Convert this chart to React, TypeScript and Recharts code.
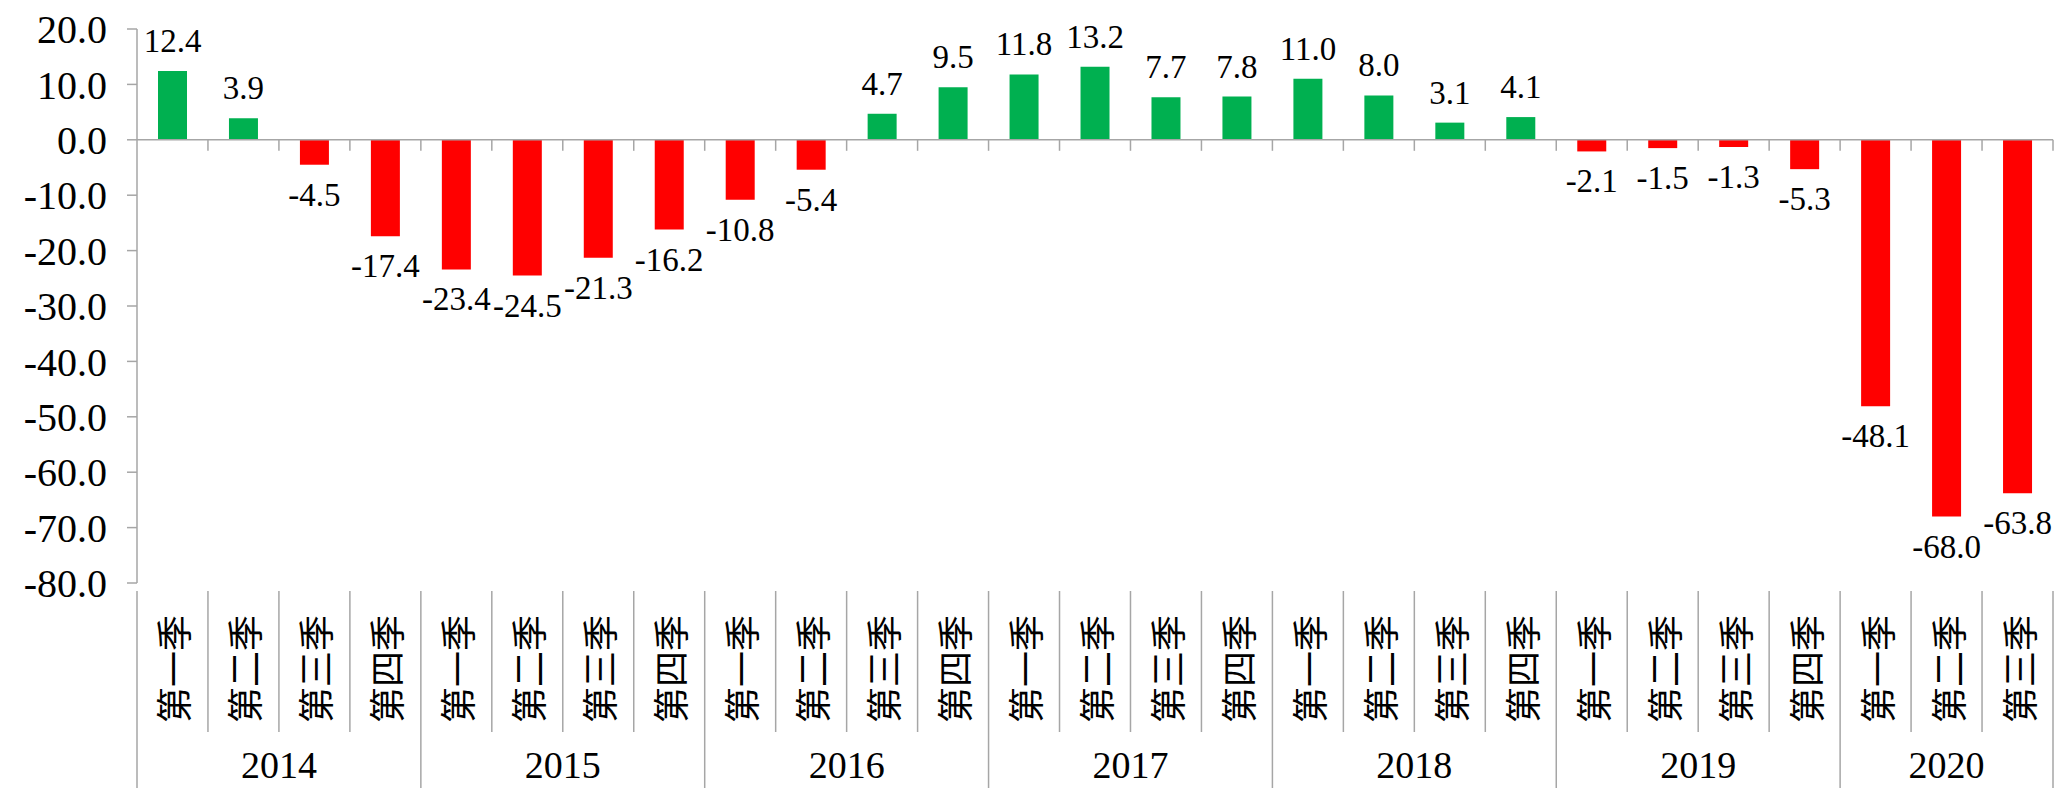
import { Bar, BarChart, Cell, LabelList, ReferenceLine, XAxis, YAxis } from 'recharts'

const YEARS = ['2014', '2015', '2016', '2017', '2018', '2019', '2020']
const QUARTERS = ['第一季', '第二季', '第三季', '第四季']
// quarters available in each year (2020 stops at Q3)
const QUARTER_COUNTS = [4, 4, 4, 4, 4, 4, 3]

const VALUES = [
  12.4, 3.9, -4.5, -17.4,
  -23.4, -24.5, -21.3, -16.2,
  -10.8, -5.4, 4.7, 9.5,
  11.8, 13.2, 7.7, 7.8,
  11.0, 8.0, 3.1, 4.1,
  -2.1, -1.5, -1.3, -5.3,
  -48.1, -68.0, -63.8,
]

const Y_TICKS = [20, 10, 0, -10, -20, -30, -40, -50, -60, -70, -80]

const GREEN = '#00B050'
const RED = '#FF0000'
const GRID = '#A6A6A6'
const NUM_FONT = '"Liberation Serif", "DejaVu Serif", serif'
const CJK_FONT = '"Noto Sans CJK SC", sans-serif'

const W = 2059
const H = 788
const AXIS_H = 205

// build one row per quarter, remembering where each year starts
const data: { name: string; quarter: string; year: string; yearStart: boolean; yearLen: number; value: number }[] = []
YEARS.forEach((year, yi) => {
  for (let q = 0; q < QUARTER_COUNTS[yi]; q++) {
    data.push({
      name: `${year}-${q + 1}`,
      quarter: QUARTERS[q],
      year,
      yearStart: q === 0,
      yearLen: QUARTER_COUNTS[yi],
      value: VALUES[data.length],
    })
  }
})

function QuarterTick(props: any) {
  const { x, y, payload, index } = props
  const row = data[index]
  const band = payload?.offset ? payload.offset * 2 : props.width / data.length
  const left = x - band / 2
  const right = x + band / 2
  const isLast = index === data.length - 1
  return (
    <g>
      <line
        x1={left}
        x2={left}
        y1={y}
        y2={row.yearStart ? H : y + 141}
        stroke={GRID}
        strokeWidth={1.5}
      />
      {isLast && <line x1={right} x2={right} y1={y} y2={H} stroke={GRID} strokeWidth={1.5} />}
      <text
        x={x}
        y={y + 78}
        transform={`rotate(-90 ${x} ${y + 78})`}
        textAnchor="middle"
        dominantBaseline="central"
        fontFamily={CJK_FONT}
        fontSize={36}
        fill="#000"
      >
        {row.quarter}
      </text>
      {row.yearStart && (
        <text
          x={left + (band * row.yearLen) / 2}
          y={y + 187}
          textAnchor="middle"
          fontFamily={NUM_FONT}
          fontSize={38}
          fill="#000"
        >
          {row.year}
        </text>
      )}
    </g>
  )
}

// zero line with a small tick at each category boundary
function ZeroAxis(props: any) {
  const { x1, x2, y1 } = props
  const step = (x2 - x1) / data.length
  const ticks = []
  for (let i = 1; i <= data.length; i++) {
    const tx = x1 + step * i
    ticks.push(<line key={i} x1={tx} x2={tx} y1={y1} y2={y1 + 11} stroke={GRID} strokeWidth={1.5} />)
  }
  return (
    <g>
      <line x1={x1} x2={x2} y1={y1} y2={y1} stroke={GRID} strokeWidth={1.5} />
      {ticks}
    </g>
  )
}

function ValueLabel(props: any) {
  const vb = props.viewBox || {}
  const x = props.x ?? vb.x
  const y = props.y ?? vb.y
  const width = props.width ?? vb.width
  const height = props.height ?? vb.height
  const value = Number(props.value)
  const top = Math.min(y, y + height)
  const bottom = Math.max(y, y + height)
  const cy = value >= 0 ? top - 30 : bottom + 30
  return (
    <text
      x={x + width / 2}
      y={cy}
      textAnchor="middle"
      dominantBaseline="central"
      fontFamily={NUM_FONT}
      fontSize={33}
      fill="#000"
    >
      {value.toFixed(1)}
    </text>
  )
}

export default function App() {
  return (
    <div style={{ position: 'absolute', left: 0, top: 0, background: '#fff' }}>
      <BarChart
        width={W}
        height={H}
        data={data}
        margin={{ top: 29, right: 6, bottom: 0, left: 0 }}
      >
        <XAxis
          dataKey="name"
          height={AXIS_H}
          interval={0}
          axisLine={false}
          tickLine={false}
          tick={<QuarterTick />}
        />
        <YAxis
          width={137}
          domain={[-80, 20]}
          ticks={Y_TICKS}
          interval={0}
          allowDataOverflow
          tickFormatter={(v: number) => v.toFixed(1)}
          axisLine={{ stroke: GRID, strokeWidth: 1.5 }}
          tickLine={{ stroke: GRID, strokeWidth: 1.5 }}
          tickSize={10}
          tickMargin={20}
          tick={{ fontFamily: NUM_FONT, fontSize: 40, fill: '#000' }}
        />
        <ReferenceLine y={0} shape={<ZeroAxis />} />
        <Bar dataKey="value" barSize={29} isAnimationActive={false}>
          {data.map((d) => (
            <Cell key={d.name} fill={d.value >= 0 ? GREEN : RED} />
          ))}
          <LabelList dataKey="value" content={<ValueLabel />} />
        </Bar>
      </BarChart>
    </div>
  )
}
